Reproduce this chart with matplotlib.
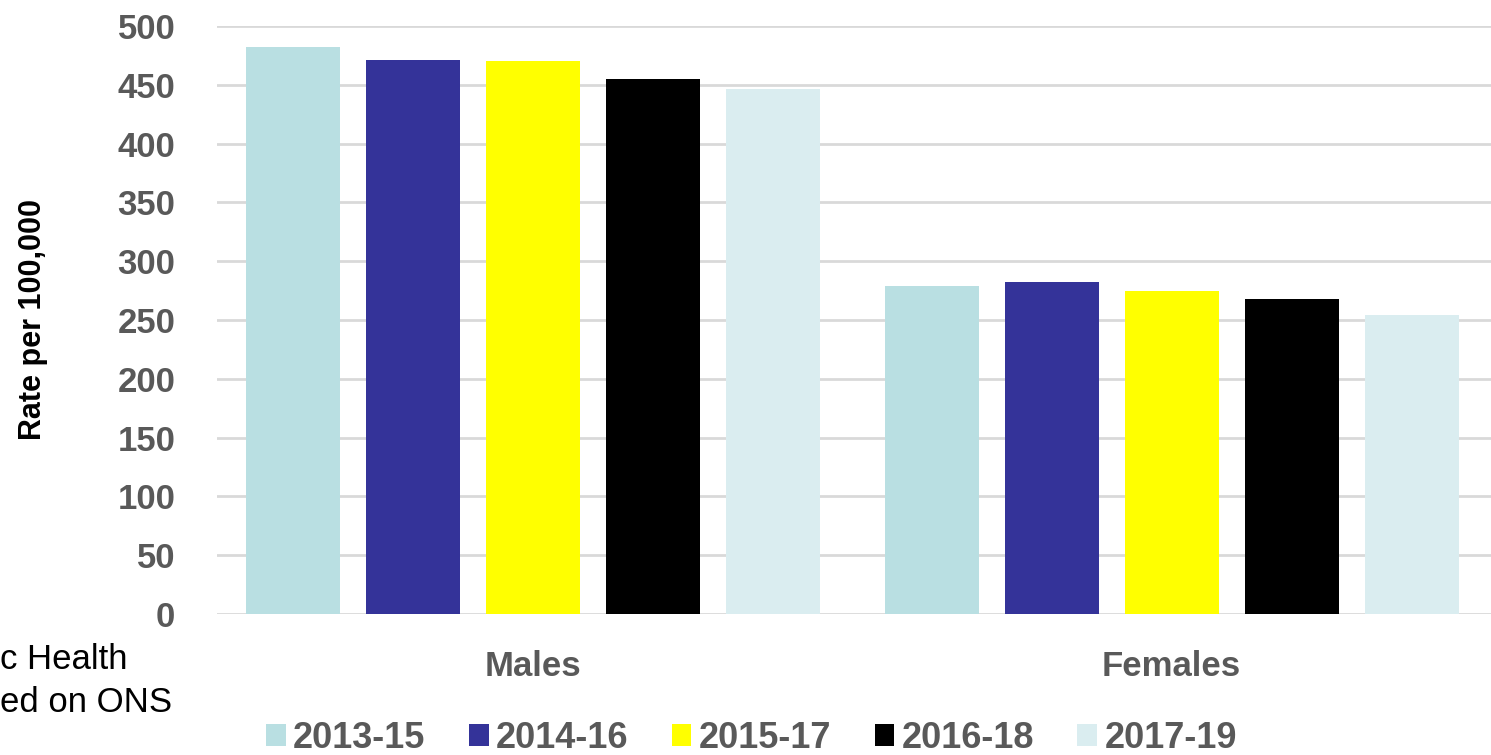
import numpy as np
from matplotlib import pyplot as plt
from matplotlib.patches import Patch

plt.rcParams['font.family'] = ['Liberation Sans', 'DejaVu Sans']

groups = ['Males', 'Females']
periods = ['2013-15', '2014-16', '2015-17', '2016-18', '2017-19']
rates = [
    [482, 279],  # 2013-15
    [471, 282],  # 2014-16
    [470, 275],  # 2015-17
    [455, 268],  # 2016-18
    [446, 254],  # 2017-19
]
colors = ['#B9DFE2', '#343399', '#FFFF00', '#000000', '#DAEDF0']
grey = '#595959'

fig = plt.figure(figsize=(14.91, 7.55), dpi=100, facecolor='white')
ax = fig.add_axes([0.1455, 0.1868, 0.8545, 0.7788])

x = np.arange(len(groups))
step = 0.188
width = 0.147
for i, (p, vals) in enumerate(zip(periods, rates)):
    ax.bar(x + (i - 2) * step, vals, width=width, color=colors[i], zorder=3)

ax.set_xlim(-0.495, 1.5)
ax.set_ylim(0, 500)
ax.set_yticks(np.arange(0, 501, 50))
ax.yaxis.grid(True, color='#D9D9D9', linewidth=2, zorder=0)
for s in ax.spines.values():
    s.set_visible(False)
ax.tick_params(axis='both', length=0)
ax.tick_params(axis='y', labelsize=25, labelcolor=grey, pad=30)
ax.tick_params(axis='x', labelsize=25, labelcolor=grey, pad=26)
for lab in ax.get_yticklabels() + ax.get_xticklabels():
    lab.set_fontweight('bold')
ax.set_xticks(x)
ax.set_xticklabels(groups)
ax.set_ylabel('Rate per 100,000', fontsize=22, fontweight='bold', color='black', labelpad=50)

handles = [Patch(facecolor=c) for c in colors]
fig.legend(handles, periods, loc='center', bbox_to_anchor=(0.504, 0.022), ncol=5, frameon=False,
           prop={'size': 26, 'weight': 'bold'}, labelcolor=grey, handlelength=0.55, handleheight=0.55,
           handletextpad=0.2, columnspacing=1.2)

fig.text(0.0, 0.127, 'c Health', fontsize=25, color='black', va='center', ha='left')
fig.text(0.0, 0.070, 'ed on ONS', fontsize=25, color='black', va='center', ha='left')

plt.savefig('out.png', dpi=100)
